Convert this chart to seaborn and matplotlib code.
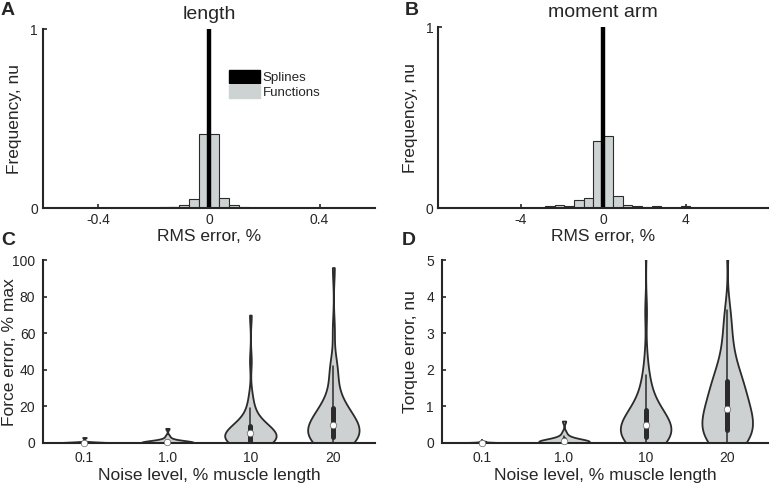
import numpy as np
import pandas as pd
import matplotlib
matplotlib.use('Agg')
import matplotlib.pyplot as plt
from matplotlib.patches import Patch
import seaborn as sns

# --- A: length RMS error (%), histogram heights ---
len_edges = [-0.18, -0.144, -0.108, -0.072, -0.036, 0.0, 0.036, 0.072, 0.108, 0.144, 0.18]
len_func_heights = [0.003, 0.008, 0.017, 0.052, 0.415, 0.415, 0.058, 0.017, 0.003, 0.0]
len_spline_edges = [-0.0085, 0.0085]
len_spline_heights = [1.0]
len_spline_tail_edges = [-0.144, -0.108]
len_spline_tail_heights = [0.006]

# --- B: moment arm RMS error (%) ---
arm_edges = [-2.82, -2.35, -1.88, -1.41, -0.94, -0.47, 0.0, 0.47, 0.94, 1.41, 1.88, 2.35]
arm_func_heights = [0.0, 0.0165, 0.009, 0.042, 0.057, 0.372, 0.40, 0.064, 0.015, 0.009, 0.005]
arm_spline_edges = [-0.1, 0.1]
arm_spline_heights = [1.0]
arm_spline_tail_edges = [-2.82, -2.35, 2.35, 2.82, 3.76, 4.23]
arm_spline_tail_heights = [0.013, 0.0, 0.013, 0.0, 0.009]

# --- C/D: error samples per noise level ---
noise_levels = ['0.1', '1.0', '10', '20']

force_err_01 = [0.0, 0.0, 0.01, 0.02, 0.02, 0.03, 0.05, 0.05, 0.08, 0.1, 0.12, 0.15, 0.2, 0.3, 0.5, 3.0]
force_err_1 = [0.0, 0.0, 0.05, 0.1, 0.1, 0.15, 0.2, 0.25, 0.3, 0.35, 0.4, 0.5, 0.6, 0.8, 1.0, 1.3, 1.8, 2.5, 4.0, 8.0]
force_err_10 = [0.0, 0.0, 0.02, 0.05, 0.1, 0.2, 0.3, 0.45, 0.6, 0.8, 1.0, 1.3, 1.6,
                1.9, 2.3, 2.7, 3.1, 3.5, 3.9, 4.3, 4.7, 5.1, 5.4, 5.7, 5.9,
                6.2, 6.6, 7.0, 7.5, 8.0, 8.5, 9.0, 9.4, 9.8, 10.1,
                11.5, 13.0, 14.5, 16.5, 19.0, 22.0, 27.0, 45.0, 70.0]
force_err_20 = [0.0, 0.0, 0.05, 0.1, 0.3, 0.6, 0.9, 1.3, 1.8, 2.3, 2.9, 3.5, 4.0, 4.5,
                5.1, 5.8, 6.5, 7.2, 7.9, 8.5, 9.0, 9.5, 9.9, 10.2, 10.5,
                11.3, 12.2, 13.2, 14.2, 15.2, 16.2, 17.2, 18.2, 19.2, 20.0, 20.6,
                23.0, 26.0, 30.0, 34.0, 38.5, 42.0, 44.0, 62.0, 96.0]

torque_err_01 = [0.0, 0.0, 0.001, 0.002, 0.003, 0.005, 0.006, 0.008, 0.01, 0.012, 0.015, 0.02, 0.03, 0.05]
torque_err_1 = [0.0, 0.0, 0.005, 0.01, 0.015, 0.02, 0.025, 0.03, 0.035, 0.04, 0.045,
                0.05, 0.06, 0.07, 0.08, 0.1, 0.12, 0.15, 0.2, 0.3, 0.6]
torque_err_10 = [0.0, 0.0, 0.005, 0.01, 0.02, 0.035, 0.05, 0.07, 0.09, 0.11, 0.14, 0.17, 0.2,
                 0.23, 0.26, 0.29, 0.32, 0.35, 0.38, 0.41, 0.43, 0.45, 0.47, 0.49,
                 0.52, 0.55, 0.59, 0.63, 0.67, 0.71, 0.75, 0.79, 0.83, 0.87, 0.9,
                 0.96, 1.04, 1.13, 1.24, 1.38, 1.55, 1.75, 1.85, 2.4, 3.6, 5.6]
torque_err_20 = [0.0, 0.0, 0.01, 0.03, 0.06, 0.09, 0.13, 0.17, 0.21, 0.26, 0.31, 0.36, 0.4,
                 0.45, 0.5, 0.56, 0.62, 0.68, 0.74, 0.8, 0.85, 0.89, 0.92, 0.95,
                 1.02, 1.1, 1.18, 1.26, 1.34, 1.42, 1.5, 1.58, 1.65, 1.7, 1.75,
                 1.85, 1.98, 2.12, 2.28, 2.48, 2.72, 3.0, 3.35, 3.65, 5.6]

GRAY = '#cdd2d2'
DARK = '#2b2b2b'


def hist_from_heights(ax, edges, heights, color, edgecolor, lw=0.8):
    """ビンの高さをそのまま重みにしてヒストグラムを描く"""
    e = np.asarray(edges, dtype=float)
    df = pd.DataFrame({'x': (e[:-1] + e[1:]) / 2, 'w': heights})
    sns.histplot(data=df, x='x', weights='w', bins=list(edges), color=color,
                 edgecolor=edgecolor, linewidth=lw, alpha=1, ax=ax)


def style_axis(ax, xlabel, ylabel, xlab_y, ylab_x, pad):
    sns.despine(ax=ax)
    ax.spines['left'].set_linewidth(1.5)
    ax.spines['bottom'].set_linewidth(1.5)
    ax.tick_params(direction='in', length=3, width=1.2, labelsize=10, pad=pad)
    ax.set_xlabel(xlabel, fontsize=12.5)
    ax.set_ylabel(ylabel, fontsize=12.5)
    ax.xaxis.set_label_coords(0.5, xlab_y)
    ax.yaxis.set_label_coords(ylab_x, 0.5)


def make_long(groups):
    frames = [pd.DataFrame({'noise': lvl, 'err': vals}) for lvl, vals in zip(noise_levels, groups)]
    return pd.concat(frames, ignore_index=True)


def draw_violins(ax, df, ylim, yticks, ylabel, ylab_x):
    sns.violinplot(data=df, x='noise', y='err', order=noise_levels, cut=0,
                   density_norm='width', width=0.62, bw_adjust=0.85,
                   inner='box', color=GRAY, linecolor=DARK, linewidth=1.3,
                   inner_kws=dict(box_width=3.6, whis_width=1.1), ax=ax)
    # 中央値を白丸で重ねる
    med = df.groupby('noise')['err'].median().reindex(noise_levels)
    ax.scatter(range(len(noise_levels)), med.values, s=22, color='white',
               edgecolor='#666666', linewidth=0.5, zorder=5, clip_on=False)
    ax.set_ylim(*ylim)
    ax.set_yticks(yticks)
    ax.set_xlim(-0.5, 3.5)
    style_axis(ax, 'Noise level, % muscle length', ylabel, -0.135, ylab_x, 5.5)


if __name__ == '__main__':
    sns.set_style('ticks')
    plt.rcParams['font.family'] = ['Liberation Sans', 'DejaVu Sans']
    plt.rcParams['axes.unicode_minus'] = False

    fig = plt.figure(figsize=(7.7, 4.86), dpi=100)
    ax_a = fig.add_axes([0.0558, 0.572, 0.431, 0.368])
    ax_b = fig.add_axes([0.569, 0.572, 0.4286, 0.372])
    ax_c = fig.add_axes([0.0558, 0.0885, 0.431, 0.376])
    ax_d = fig.add_axes([0.5736, 0.0885, 0.4238, 0.376])

    # A
    hist_from_heights(ax_a, len_edges, len_func_heights, GRAY, DARK)
    hist_from_heights(ax_a, len_spline_tail_edges, len_spline_tail_heights, '#333333', DARK)
    hist_from_heights(ax_a, len_spline_edges, len_spline_heights, 'black', 'black', lw=0.3)
    ax_a.set_xlim(-0.6, 0.6)
    ax_a.set_ylim(0, 1)
    ax_a.set_xticks([-0.4, 0, 0.4], ['-0.4', '0', '0.4'])
    ax_a.set_yticks([0, 1])
    ax_a.set_title('length', fontsize=14, pad=7)
    style_axis(ax_a, 'RMS error, %', 'Frequency, nu', -0.118, -0.063, 3.5)
    handles = [Patch(facecolor='black', edgecolor='black'),
               Patch(facecolor=GRAY, edgecolor=GRAY)]
    ax_a.legend(handles, ['Splines', 'Functions'], loc='upper left',
                bbox_to_anchor=(0.545, 0.80), frameon=False, fontsize=9.6,
                handlelength=2.3, handleheight=1.1, handletextpad=0.2,
                labelspacing=0.05, borderaxespad=0)

    # B
    hist_from_heights(ax_b, arm_edges, arm_func_heights, GRAY, DARK)
    hist_from_heights(ax_b, arm_spline_tail_edges, arm_spline_tail_heights, '#3a3a3a', DARK)
    hist_from_heights(ax_b, arm_spline_edges, arm_spline_heights, 'black', 'black', lw=0.3)
    ax_b.set_xlim(-8, 8)
    ax_b.set_ylim(0, 1)
    ax_b.set_xticks([-4, 0, 4])
    ax_b.set_yticks([0, 1])
    ax_b.set_title('moment arm', fontsize=14, pad=7)
    style_axis(ax_b, 'RMS error, %', 'Frequency, nu', -0.118, -0.061, 3.5)

    # C, D
    draw_violins(ax_c, make_long([force_err_01, force_err_1, force_err_10, force_err_20]),
                 (0, 100), [0, 20, 40, 60, 80, 100], 'Force error, % max', -0.078)
    draw_violins(ax_d, make_long([torque_err_01, torque_err_1, torque_err_10, torque_err_20]),
                 (0, 5), [0, 1, 2, 3, 4, 5], 'Torque error, nu', -0.073)

    for lbl, x, y in [('A', 0.001, 0.978), ('B', 0.526, 0.978), ('C', 0.001, 0.505), ('D', 0.522, 0.505)]:
        fig.text(x, y, lbl, fontsize=14, fontweight='bold', va='center')

    fig.savefig('out.png', dpi=100)
